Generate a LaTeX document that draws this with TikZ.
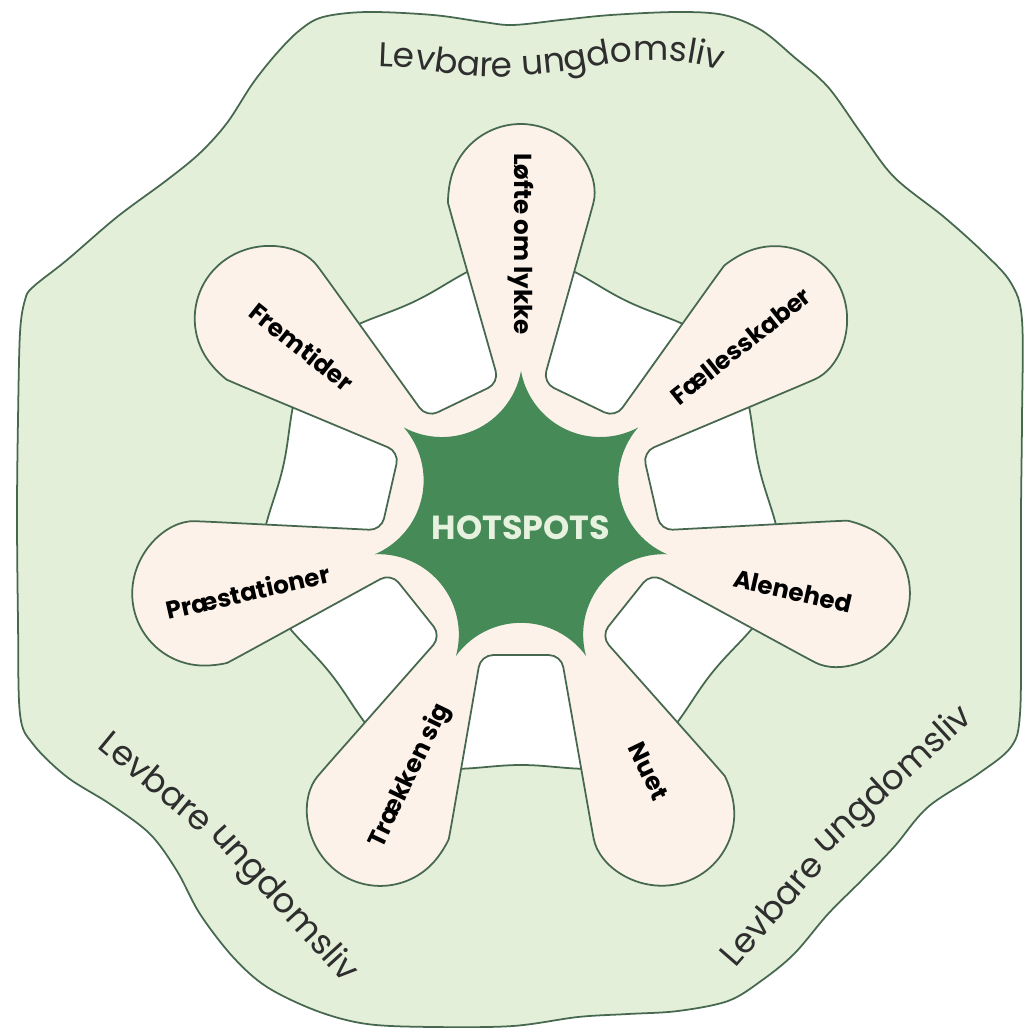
\documentclass[tikz,border=0pt]{standalone}
\usepackage{fontspec}
\setmainfont{Poppins}
\usetikzlibrary{decorations.text}
\definecolor{hsLeaf}{HTML}{E4EFDA}
\definecolor{hsLine}{HTML}{46684F}
\definecolor{hsPetal}{HTML}{FCF2EA}
\definecolor{hsStar}{HTML}{458A57}
\definecolor{hsText}{HTML}{2E2E2E}
\definecolor{hsPale}{HTML}{E6F1DE}

\tikzset{
  petal label/.style={font=\fontsize{14}{16}\selectfont\bfseries, text=black, inner sep=0pt},
  rim word/.style={font=\fontsize{19.5}{22}\selectfont, text=hsText, inner sep=0pt},
  rim text/.style={decorate, decoration={text along path, text align=center,
      text color=hsText, text={|\fontsize{19.5}{22}\selectfont|#1}}},
}

\begin{document}
\begin{tikzpicture}[x=0.02cm, y=0.02cm, line width=1pt]
  \useasboundingbox (-521,-507) rectangle (504,521);

  % outer band, traced in pixel coordinates
  \begin{scope}[shift={(-521,521)}, yscale=-1]
    \filldraw[fill=hsLeaf, draw=hsLine] plot[smooth cycle, tension=0.55] coordinates {
      (323,17) (367,12) (433,15) (483,22) (513,25) (561,20) (611,15) (678,12)
      (724,15) (761,30) (794,57) (828,87) (861,133) (894,177) (944,217) (984,253)
      (1011,283) (1022,320) (1022,420) (1021,514) (1021,620) (1020,714) (1011,747)
      (978,774) (928,807) (894,847) (861,881) (828,914) (794,954) (761,981)
      (728,1001) (678,1011) (628,1014) (578,1017) (513,1026) (433,1027) (367,1024)
      (317,1011) (267,987) (233,957) (200,914) (177,871) (150,834) (110,804)
      (67,777) (33,744) (20,714) (18,620) (17,514) (18,420) (20,333) (25,300)
      (33,287) (67,260) (117,217) (167,180) (200,153) (227,123) (253,83)
      (277,53) (300,30)};
  \end{scope}

  % white ring between the petals
  \filldraw[fill=white, draw=hsLine] plot[domain=0:358, samples=180, smooth cycle] (\x:{254-10*sin(7*\x)});

  % petals and centre
  \filldraw[fill=hsPetal, draw=hsLine, rounded corners=0.24cm, line cap=butt] (64.29:134.1)
    \foreach \k [evaluate=\k as \p using {90+\k*360/7}] in {0,...,6} {
      -- ({\p-9.04}:140) -- ({\p-12.74}:314.1)
      arc[start angle=\p-105, end angle=\p+105, radius=72]
      -- ({\p+9.04}:140) -- ({\p+25.71}:134.1)
    };

  % star
  \fill[hsStar] (90:150)
    \foreach \k [evaluate=\k as \g using {115.714+\k*360/7}] in {0,...,6} {
      arc[start angle=\g+234, end angle=\g+126, radius=80.4]
    } -- cycle;
  \node[font=\fontsize{19}{21}\selectfont\bfseries, text=hsPale] (hotspots) at (0,-7) {HOTSPOTS};

  % petal labels
  \node[petal label, rotate=-90] (lofte) at (90:277) {Løfte om lykke};
  \node[petal label, rotate=-38.57] (fremtider) at (141.43:280) {Fremtider};
  \node[petal label, rotate=12.86] (praestationer) at (194.5:282) {Præstationer};
  \node[petal label, rotate=64.29] (traekken) at (246.5:278) {Trækken sig};
  \node[petal label, rotate=-64.29] (nuet) at (297:281) {Nuet};
  \node[petal label, rotate=-12.86] (alenehed) at (345.5:281) {Alenehed};
  \node[petal label, rotate=38.57] (faellesskaber) at (38.57:281) {Fællesskaber};

  % rim texts
  \path[rim text=Levbare ungdomsliv] plot[smooth] coordinates {(-185,455) (-151,455) (-111,453)
    (-71,447) (-31,444) (9,446) (49,450) (89,457) (129,461) (169,458) (209,448) (240,436)};
  \node[rim word, rotate=-39.5] (levbareL) at (-364,-260) {Levbare};
  \node[rim word, rotate=-47.7] (ungdomL) at (-238,-383) {ungdomsliv};
  \node[rim word, rotate=49] (levbareR) at (250,-388) {Levbare};
  \node[rim word, rotate=42.6] (ungdomR) at (373,-260) {ungdomsliv};
\end{tikzpicture}
\end{document}
